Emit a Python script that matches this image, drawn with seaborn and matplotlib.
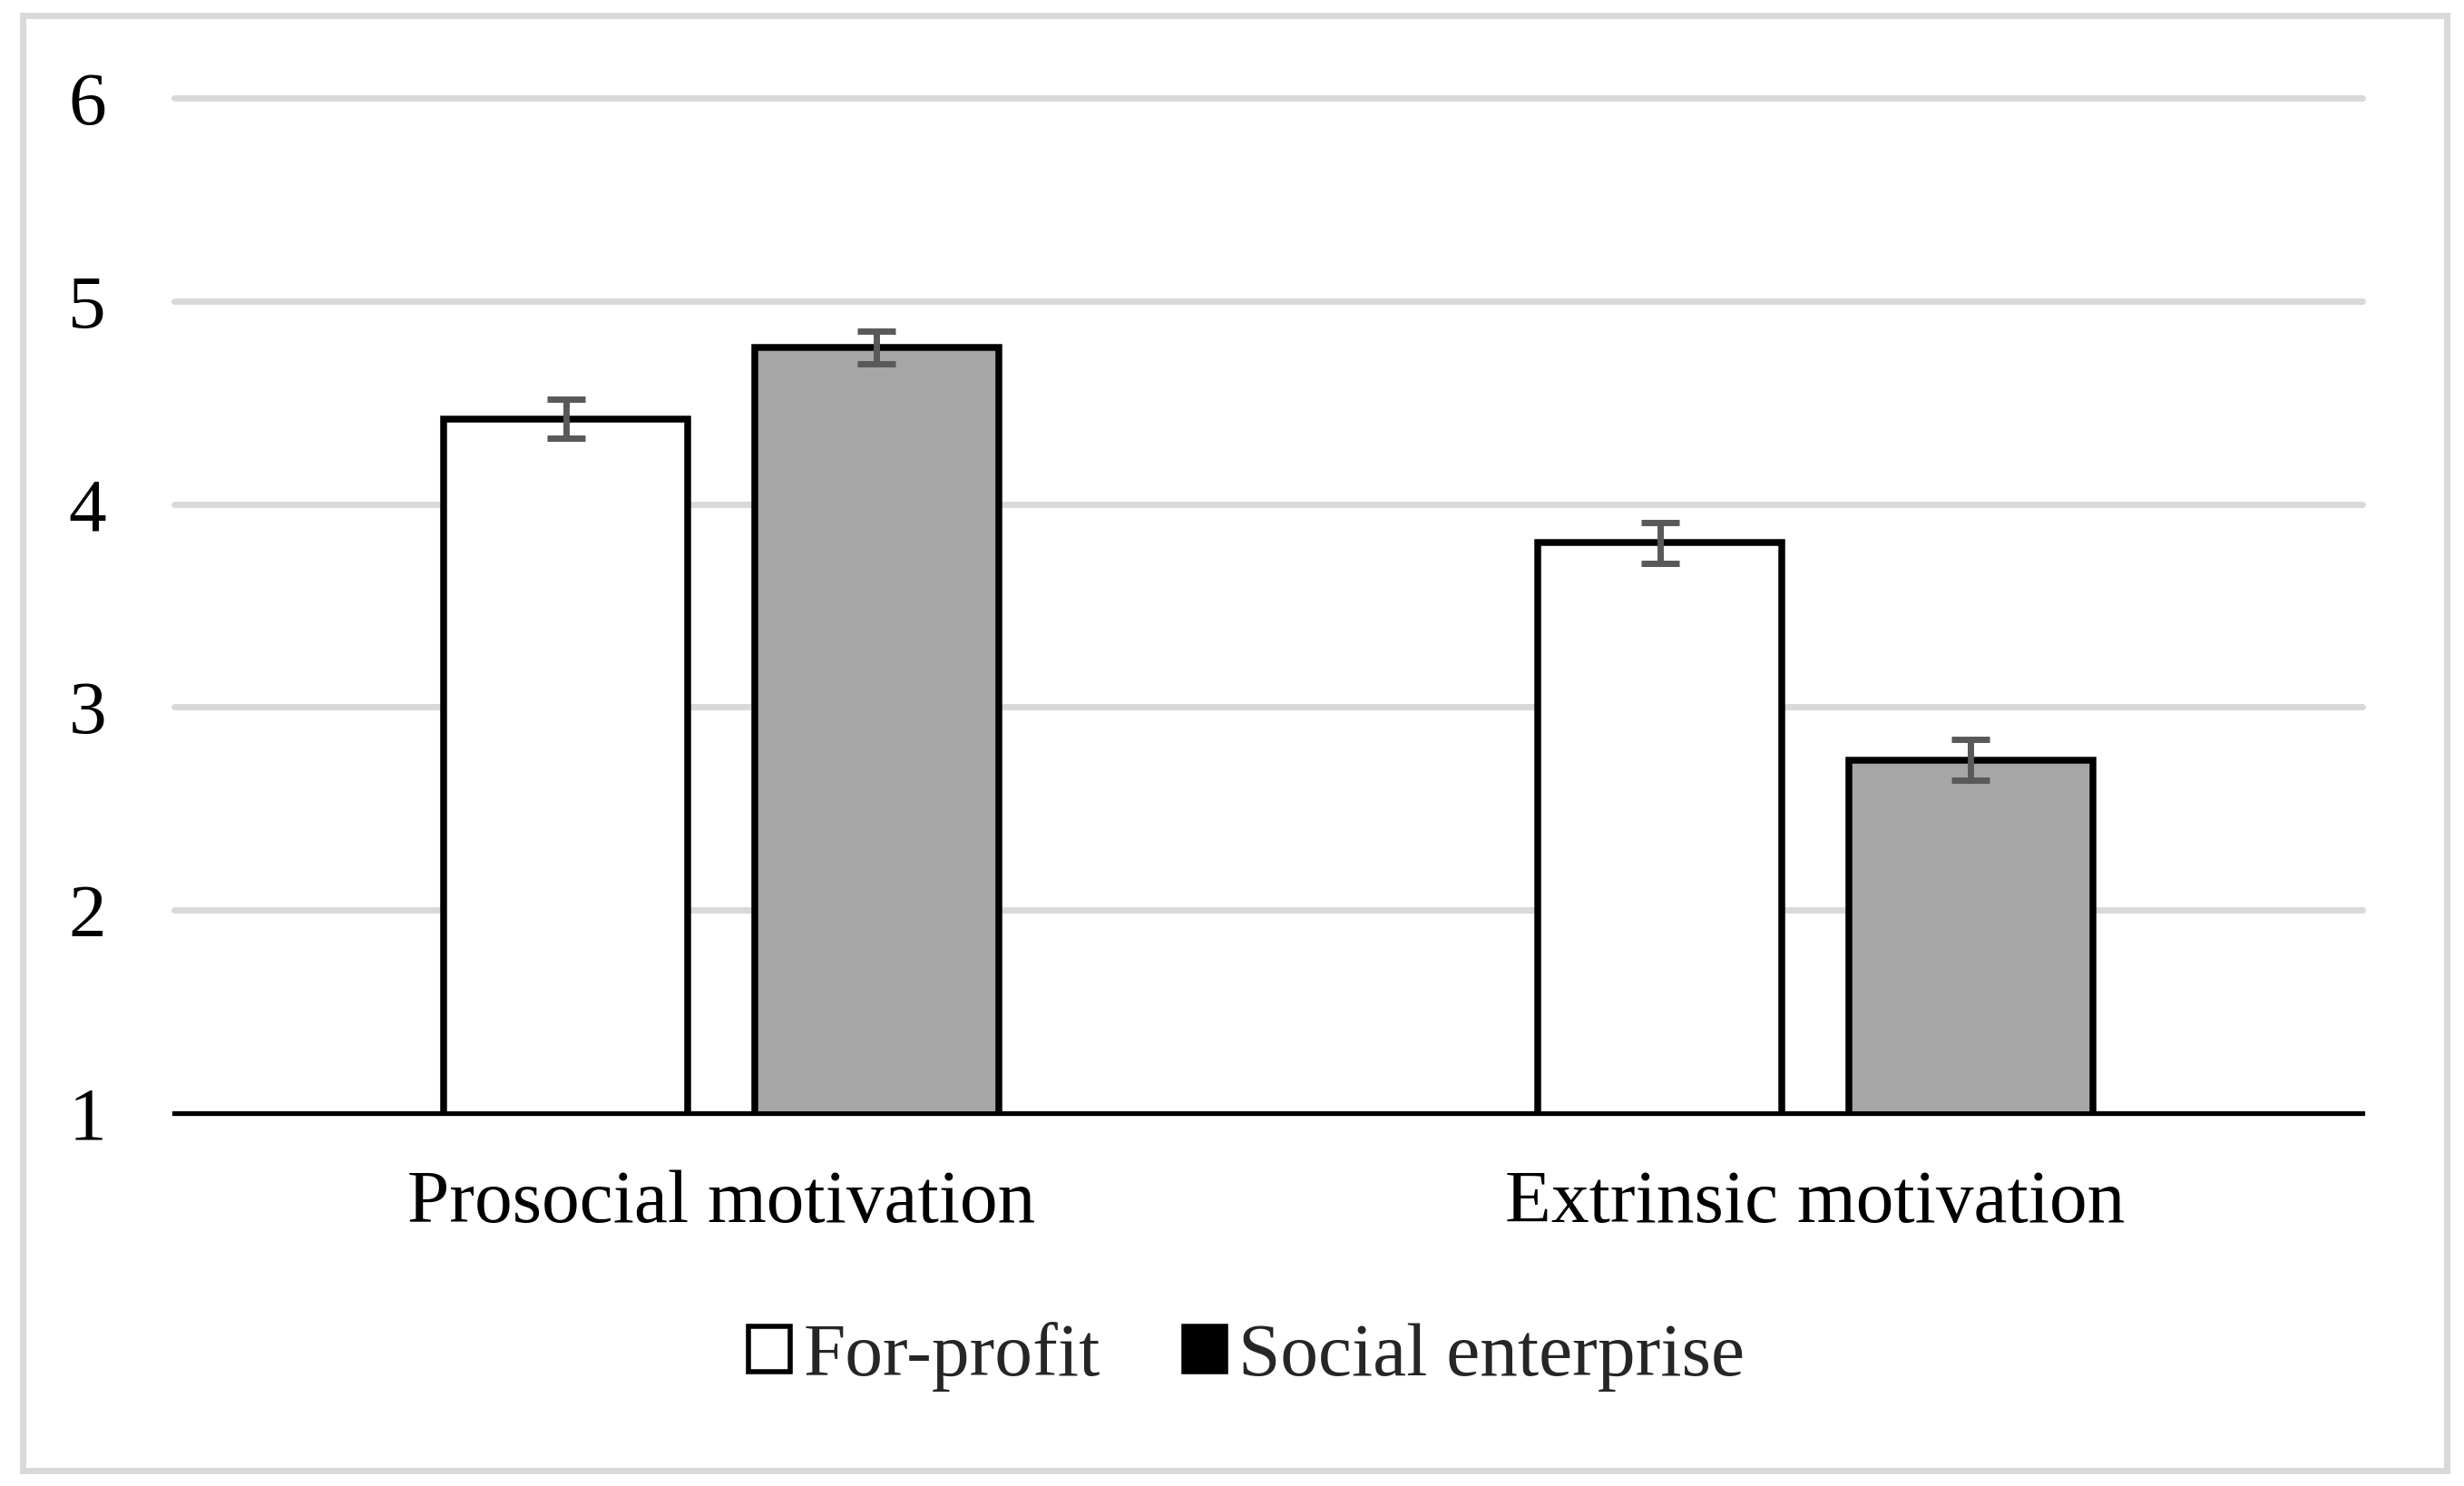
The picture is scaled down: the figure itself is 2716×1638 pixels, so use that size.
import matplotlib
matplotlib.use("Agg")
import matplotlib.pyplot as plt
import seaborn as sns
import pandas as pd
from matplotlib.patches import Patch, Rectangle

categories = ["Prosocial motivation", "Extrinsic motivation"]
groups = ["For-profit", "Social enterprise"]
for_profit_means = [4.42, 3.81]
social_means = [4.77, 2.74]
for_profit_err = [0.095, 0.10]
social_err = [0.08, 0.10]
y_ticks = [1, 2, 3, 4, 5, 6]

df = pd.DataFrame({
    "category": categories * 2,
    "group": [groups[0]] * 2 + [groups[1]] * 2,
    "mean": for_profit_means + social_means,
    "err": for_profit_err + social_err,
})

sns.set_theme(style="white")
plt.rcParams["font.family"] = ["Liberation Serif", "DejaVu Serif"]

W, H, DPI = 2716, 1638, 100
fig = plt.figure(figsize=(W / DPI, H / DPI), dpi=DPI)
fig.patch.set_facecolor("white")
ax = fig.add_axes([192 / W, (H - 1227) / H, (2604 - 192) / W, (1227 - 108) / H])

palette = {groups[0]: "#ffffff", groups[1]: "#a6a6a6"}
sns.barplot(data=df, x="category", y="mean", hue="group", order=categories,
            hue_order=groups, palette=palette, width=0.568, gap=0.215,
            edgecolor="black", linewidth=5.4, errorbar=None, legend=False,
            saturation=1, ax=ax, zorder=3)

# error bars at bar centres
for cont, g in zip(ax.containers, groups):
    sub = df[df["group"] == g].set_index("category").loc[categories]
    xs = [p.get_x() + p.get_width() / 2 for p in cont.patches]
    ax.errorbar(xs, sub["mean"].values, yerr=sub["err"].values, fmt="none",
                ecolor="#595959", elinewidth=5, capsize=15, capthick=5, zorder=4)

ax.set_ylim(1, 6)
ax.set_xlim(-0.5, 1.5)
ax.set_yticks(y_ticks)
ax.set_yticklabels([str(t) for t in y_ticks])
ax.set_xlabel("")
ax.set_ylabel("")
ax.grid(axis="y", color="#d9d9d9", linewidth=5, zorder=0)
ax.set_axisbelow(True)
for gl in ax.yaxis.get_gridlines():
    gl.set_clip_on(False)
for s in ["top", "right", "left"]:
    ax.spines[s].set_visible(False)
ax.spines["bottom"].set_color("black")
ax.spines["bottom"].set_linewidth(3.6)
ax.spines["bottom"].set_zorder(5)
ax.tick_params(axis="both", length=0, labelsize=60, colors="black")
ax.tick_params(axis="y", pad=54)
ax.tick_params(axis="x", pad=45)

handles = [Patch(facecolor="white", edgecolor="black", linewidth=4),
           Patch(facecolor="black", edgecolor="black", linewidth=4)]
fig.legend(handles, groups, loc="center", bbox_to_anchor=(1374 / W, (H - 1496) / H),
           ncol=2, frameon=False, fontsize=60, handlelength=0.56, handleheight=0.56,
           handletextpad=0.17, columnspacing=1.1)

fig.add_artist(Rectangle((25 / W, 17 / H), (2697 - 25) / W, (1621 - 17) / H,
                         transform=fig.transFigure, fill=False,
                         edgecolor="#d9d9d9", linewidth=5))

fig.savefig("out.png", dpi=DPI, facecolor="white")
